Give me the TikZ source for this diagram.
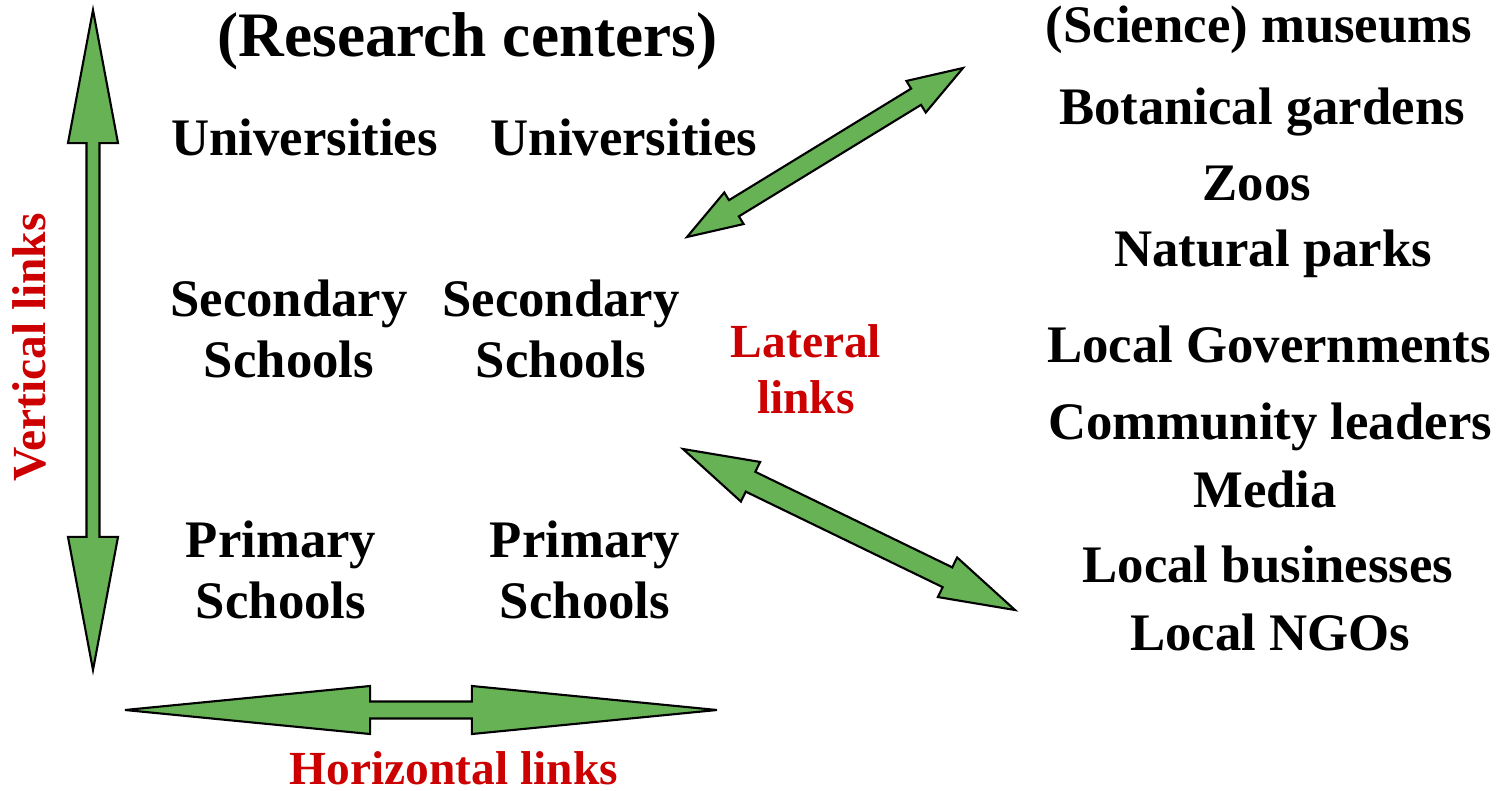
\documentclass[tikz,border=0pt]{standalone}
\usepackage{fontspec}
\setmainfont{Liberation Serif}
\usetikzlibrary{calc}
\definecolor{arrgreen}{RGB}{102,178,84}
\definecolor{linkred}{RGB}{204,0,0}
\tikzset{
  lbl/.style={font=\fontsize{15}{17.4}\selectfont\bfseries, inner sep=0pt, align=center},
  ttl/.style={font=\fontsize{18}{21}\selectfont\bfseries, inner sep=0pt},
  redlbl/.style={font=\fontsize{13.5}{16}\selectfont\bfseries, text=linkred, inner sep=0pt, align=center},
  arrowshape/.style={fill=arrgreen, draw=black, line width=0.6pt, line join=miter},
}
% #1,#2 tips; #3 head length; #4 head half width; #5 shaft half width
\newcommand\dblarrow[5]{%
  \draw[arrowshape]
    (#1) -- ($(#1)!#3!(#2)!#4!90:(#2)$) -- ($(#1)!#3!(#2)!#5!90:(#2)$)
    -- ($(#2)!#3!(#1)!#5!-90:(#1)$) -- ($(#2)!#3!(#1)!#4!-90:(#1)$)
    -- (#2) -- ($(#2)!#3!(#1)!#4!90:(#1)$) -- ($(#2)!#3!(#1)!#5!90:(#1)$)
    -- ($(#1)!#3!(#2)!#5!-90:(#2)$) -- ($(#1)!#3!(#2)!#4!-90:(#2)$) -- cycle;
}
\begin{document}
\begin{tikzpicture}[x=0.01cm, y=-0.01cm]
\useasboundingbox (0,0) rectangle (1500,791);

% left block
\node[ttl, anchor=base] (rc) at (467.5,57) {(Research centers)};
\node[lbl, anchor=base] (uni1) at (304.5,156) {Universities};
\node[lbl, anchor=base] (uni2) at (624,156) {Universities};
\node[lbl] (sec1) at (289,329) {Secondary\\Schools};
\node[lbl] (sec2) at (561,329) {Secondary\\Schools};
\node[lbl] (pri1) at (281,570) {Primary\\Schools};
\node[lbl] (pri2) at (585,570) {Primary\\Schools};

% right column
\node[lbl, anchor=base] (mus) at (1259,43) {(Science) museums};
\node[lbl, anchor=base] (bot) at (1262,125) {Botanical gardens};
\node[lbl, anchor=base] (zoo) at (1257,201) {Zoos};
\node[lbl, anchor=base] (nat) at (1273,267) {Natural parks};
\node[lbl, anchor=base] (gov) at (1269,362) {Local Governments};
\node[lbl, anchor=base] (com) at (1270,439) {Community leaders};
\node[lbl, anchor=base] (med) at (1265,507) {Media};
\node[lbl, anchor=base] (bus) at (1268,582) {Local businesses};
\node[lbl, anchor=base] (ngo) at (1270,650) {Local NGOs};

% red labels
\node[redlbl] (lat) at (806,369.5) {Lateral\\links};
\node[redlbl, anchor=base] (hor) at (454,784.5) {Horizontal links};
\node[redlbl, anchor=base, rotate=90] (ver) at (45,347.5) {Vertical links};

% arrows
\coordinate (vT) at (93,10);
\coordinate (vB) at (93,670);
\coordinate (hL) at (125,710);
\coordinate (hR) at (717,710);
\coordinate (uA) at (687,237);
\coordinate (uB) at (963,68);
\coordinate (lA) at (683,449);
\coordinate (lB) at (1015,610);

\dblarrow{vT}{vB}{1.33cm}{0.25cm}{0.065cm}
\dblarrow{hL}{hR}{2.45cm}{0.24cm}{0.085cm}
\dblarrow{uA}{uB}{0.55cm}{0.185cm}{0.095cm}
\dblarrow{lA}{lB}{0.75cm}{0.22cm}{0.11cm}
\end{tikzpicture}
\end{document}
